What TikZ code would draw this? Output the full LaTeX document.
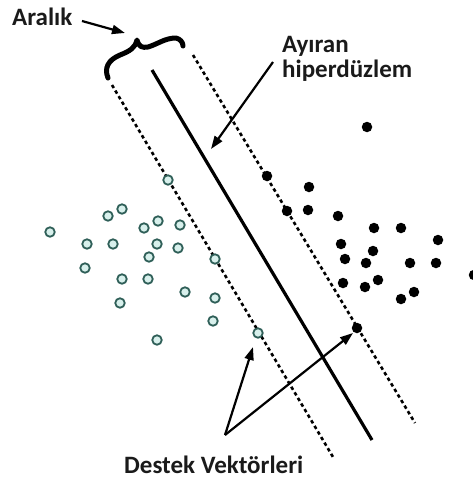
\documentclass[tikz,border=0pt]{standalone}
\usepackage{fontspec}
\setmainfont{Carlito}
\usetikzlibrary{arrows.meta}
\definecolor{ringc}{HTML}{2F5F58}
\definecolor{ringfill}{HTML}{D8F0EC}
\definecolor{txt}{HTML}{1A1A1A}
\tikzset{
  lbl/.style={font=\fontsize{25}{25}\selectfont\bfseries, text=txt, inner sep=0pt},
  ring/.style={circle, draw=ringc, fill=ringfill, line width=1.8pt, minimum size=9.5pt, inner sep=0pt},
  blob/.style={circle, fill=black, minimum size=10.5pt, inner sep=0pt},
  margin/.style={line width=2.6pt, dash pattern=on 3.5pt off 3pt},
  hyperline/.style={line width=3.2pt},
  arr/.style={line width=2.2pt, -{Triangle[length=13pt,width=9pt]}},
  bracestyle/.style={line width=5pt, line cap=round, line join=round}
}
\begin{document}
\begin{tikzpicture}[x=1pt,y=-1pt]
\useasboundingbox (0,0) rectangle (472,479);
% lines
\coordinate (ldA) at (112,85);  \coordinate (ldB) at (333,457);
\coordinate (hpA) at (152,70);  \coordinate (hpB) at (372,440);
\coordinate (rdA) at (193,55);  \coordinate (rdB) at (415,423);
\draw[margin] (ldA) -- (ldB);
\draw[hyperline] (hpA) -- (hpB);
\draw[margin] (rdA) -- (rdB);
% brace
\draw[bracestyle] (108,78) .. controls (104,68) and (108,60) .. (120,55)
  .. controls (130,51) and (135,48) .. (137,40)
  .. controls (139,47) and (142,48) .. (148,47)
  .. controls (158,44) and (165,38) .. (176,38)
  .. controls (180,39) and (183,42) .. (183,46);
% labels
\node[lbl, anchor=base west] (aralik) at (12,25) {Aralık};
\node[lbl, anchor=base west, align=left] (hyper) at (282,77) {Ayıran\\hiperdüzlem};
\node[lbl, anchor=base west] (destek) at (124,473) {Destek Vektörleri};
% open circles
\foreach \p/\q [count=\i] in {168/180,122/209,108/216,50/232,158/221,144/228,180/225,87/244,113/244,157/244,178/248,149/257,215/259,85/268,122/279,148/279,185/292,215/298,120/303,213/321,157/340,258/333}
  \node[ring] (o\i) at (\p,\q) {};
% filled dots
\foreach \p/\q [count=\i] in {267/176,309/187,287/211,308/210,338/216,374/228,401/228,438/240,341/244,373/251,345/259,366/263,410/263,436/263,343/283,365/287,378/280,414/292,401/299,357/328,474/275,367/127}
  \node[blob] (f\i) at (\p,\q) {};
% arrows
\coordinate (bracept) at (125,33);
\draw[arr] (82,21) -- (bracept);
\coordinate (hpfrom) at (273,62);
\coordinate (hpto) at (211,149);
\draw[arr] (hpfrom) -- (hpto);
\coordinate (dvsrc) at (225,435);
\coordinate (sv1) at (253,347);
\coordinate (sv2) at (353,333);
\draw[arr] (dvsrc) -- (sv1);
\draw[arr] (dvsrc) -- (sv2);
\end{tikzpicture}
\end{document}
